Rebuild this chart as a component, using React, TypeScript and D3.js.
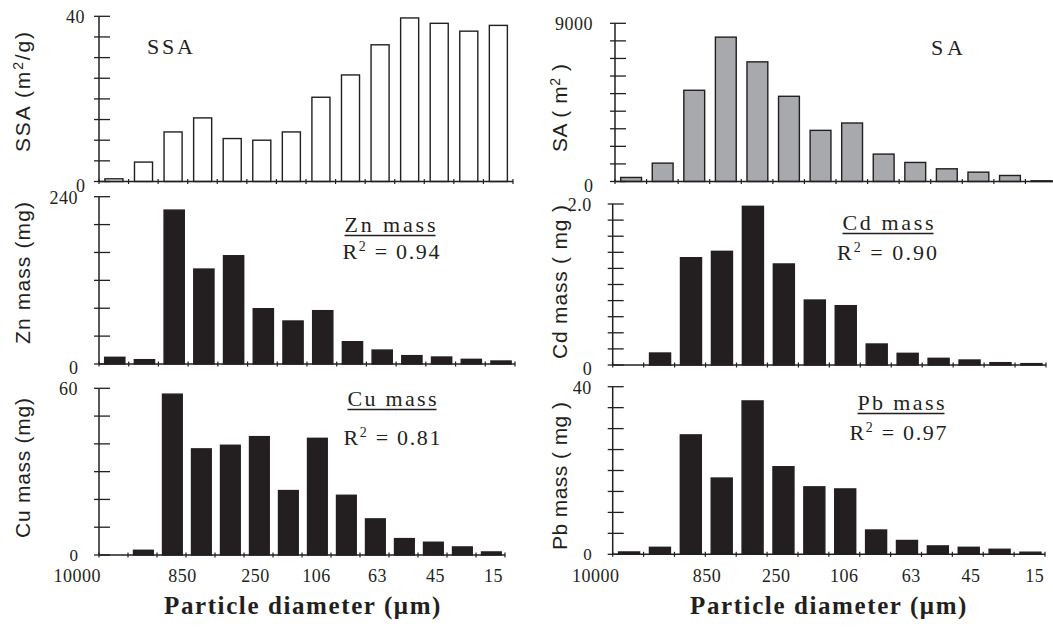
import React from "react";
import * as d3 from "d3";

// 14 particle-size fractions (coarse -> fine)
const fractions = ["f1", "f2", "f3", "f4", "f5", "f6", "f7", "f8", "f9", "f10", "f11", "f12", "f13", "f14"];
const sizeLabels = ["10000", "850", "250", "106", "63", "45", "15"];

const ssaValues = [0.65, 4.7, 12.0, 15.4, 10.4, 10.0, 12.0, 20.4, 25.8, 33.1, 39.6, 38.3, 36.4, 37.8];
const saValues = [230, 1045, 5190, 8213, 6806, 4848, 2909, 3327, 1559, 1084, 722, 532, 342, 40];
const znValues = [9.6, 6.2, 220.8, 136.2, 155.3, 79.3, 61.7, 76.5, 32, 20, 12, 10, 6.7, 4.3];
const cdValues = [0, 0.149, 1.333, 1.412, 1.971, 1.255, 0.807, 0.737, 0.261, 0.145, 0.083, 0.062, 0.029, 0.017];
const cuValues = [0, 1.7, 57.9, 38.2, 39.5, 42.6, 23.2, 42.0, 21.5, 13.0, 5.9, 4.6, 2.9, 1.1];
const pbValues = [0.56, 1.67, 28.5, 18.2, 36.6, 20.9, 16.1, 15.6, 5.8, 3.3, 2.0, 1.67, 1.2, 0.5];

const INK = "#231f20";
const SERIF = "'Liberation Serif', 'Times New Roman', serif";
const SANS = "'Liberation Sans', Arial, sans-serif";

type PanelProps = {
  values: number[];
  max: number;
  step: number;
  topLabel: string;
  x0: number;
  x1: number;
  yTop: number;
  yBottom: number;
  fill: string;
  barOff: number;
  barFrac: number;
  yTitle: React.ReactNode;
  yTitleLen: number;
  yTitleX: number;
  yTitleY: number;
  labelGap: number;
  xLabels?: number[];
  title?: string;
  titleX?: number;
  titleY?: number;
  titleLen?: number;
  underline?: boolean;
  r2?: string;
  r2X?: number;
  r2Y?: number;
  r2Len?: number;
};

function Panel(p: PanelProps) {
  const x = d3.scaleBand<string>().domain(fractions).range([p.x0, p.x1]).padding(0);
  const y = d3.scaleLinear().domain([0, p.max]).range([p.yBottom, p.yTop]);
  const bw = x.bandwidth();
  const yTicks = d3.range(0, p.max + p.step / 2, p.step);
  const xTicks = d3.range(0, fractions.length + 1).map((i) => p.x0 + i * bw);
  const zeroDy = p.xLabels ? 6 : 10;
  return (
    <g>
      {p.values.map((v, i) =>
        v > 0 ? (
          <rect
            key={i}
            x={(x(fractions[i]) as number) + bw * p.barOff}
            y={y(v)}
            width={bw * p.barFrac}
            height={Math.max(0.6, p.yBottom - y(v))}
            fill={p.fill}
            stroke={INK}
            strokeWidth={1.4}
          />
        ) : null
      )}
      {/* y axis */}
      <line x1={p.x0} x2={p.x0} y1={p.yTop} y2={p.yBottom} stroke={INK} strokeWidth={1.5} />
      {yTicks.map((t, i) => (
        <line key={i} x1={p.x0 - 5} x2={p.x0 + 11} y1={y(t)} y2={y(t)} stroke={INK} strokeWidth={1.3} />
      ))}
      <text x={p.x0 - p.labelGap} y={y(p.max) + 7} textAnchor="end" fontFamily={SERIF} fontSize={18} fill={INK} letterSpacing={0.5}>
        {p.topLabel}
      </text>
      <text x={p.x0 - p.labelGap} y={y(0) + zeroDy} textAnchor="end" fontFamily={SERIF} fontSize={p.xLabels ? 17 : 18} fill={INK}>
        0
      </text>
      {/* x axis */}
      <line x1={p.x0} x2={p.x1} y1={p.yBottom} y2={p.yBottom} stroke={INK} strokeWidth={1.5} />
      {xTicks.map((t, i) => (
        <line key={i} x1={t} x2={t} y1={p.yBottom - 2.5} y2={p.yBottom + 2.5} stroke={INK} strokeWidth={1.2} />
      ))}
      {p.xLabels
        ? sizeLabels.map((s, i) => (
            <text key={s} x={p.x0 + p.xLabels![i] * bw} y={582} textAnchor="middle" fontFamily={SERIF} fontSize={18} fill={INK} letterSpacing={0.5}>
              {s}
            </text>
          ))
        : null}
      {/* y title */}
      <text
        transform={`translate(${p.yTitleX},${p.yTitleY}) rotate(-90)`}
        textAnchor="middle"
        fontFamily={SANS}
        fontSize={21}
        fill={INK}
        textLength={p.yTitleLen}
        lengthAdjust="spacing"
      >
        {p.yTitle}
      </text>
      {p.title ? (
        <g>
          <text x={p.titleX} y={p.titleY} textAnchor="middle" fontFamily={SERIF} fontSize={22} fill={INK} textLength={p.titleLen} lengthAdjust="spacing">
            {p.title}
          </text>
          {p.underline ? (
            <line
              x1={(p.titleX as number) - (p.titleLen as number) / 2}
              x2={(p.titleX as number) + (p.titleLen as number) / 2}
              y1={(p.titleY as number) + 3.5}
              y2={(p.titleY as number) + 3.5}
              stroke={INK}
              strokeWidth={1.5}
            />
          ) : null}
        </g>
      ) : null}
      {p.r2 ? (
        <text x={p.r2X} y={p.r2Y} textAnchor="middle" fontFamily={SERIF} fontSize={22} fill={INK} textLength={p.r2Len} lengthAdjust="spacing">
          <tspan>R</tspan>
          <tspan dy={-8} fontSize={14}>2</tspan>
          <tspan dy={8}>{" = " + p.r2}</tspan>
        </text>
      ) : null}
    </g>
  );
}

const leftLabelPos = [-0.75, 2.88, 5.4, 7.5, 9.6, 11.6, 13.6];
const rightLabelPos = [-0.55, 3.05, 5.3, 7.5, 9.67, 11.6, 13.67];

export default function App() {
  return (
    <svg width={1053} height={627} style={{ position: "absolute", left: 0, top: 0, background: "#fff" }}>
      <rect x={0} y={0} width={1053} height={627} fill="#fff" />
      {/* SSA */}
      <Panel
        values={ssaValues}
        max={40}
        step={5}
        topLabel="40"
        x0={99}
        x1={513}
        yTop={16.3}
        yBottom={181.5}
        fill="#ffffff"
        barOff={0.2}
        barFrac={0.61}
        yTitle={<>SSA (m<tspan dy={-7} fontSize={14}>2</tspan><tspan dy={7}>/g)</tspan></>}
        yTitleLen={120}
        yTitleX={30}
        yTitleY={92}
        labelGap={14}
        title="SSA"
        titleX={170}
        titleY={54}
        titleLen={46}
      />
      {/* SA */}
      <Panel
        values={saValues}
        max={9000}
        step={1000}
        topLabel="9000"
        x0={615}
        x1={1057}
        yTop={23.3}
        yBottom={181.5}
        fill="#a7a9ac"
        barOff={0.18}
        barFrac={0.66}
        yTitle={<>SA ( m<tspan dy={-7} fontSize={14}>2</tspan><tspan dy={7}> )</tspan></>}
        yTitleLen={88}
        yTitleX={567}
        yTitleY={108}
        labelGap={22}
        title="SA"
        titleX={947}
        titleY={55}
        titleLen={32}
      />
      {/* Zn */}
      <Panel
        values={znValues}
        max={240}
        step={40}
        topLabel="240"
        x0={99}
        x1={515}
        yTop={196.7}
        yBottom={364}
        fill={INK}
        barOff={0.19}
        barFrac={0.68}
        yTitle="Zn mass (mg)"
        yTitleLen={142}
        yTitleX={30}
        yTitleY={273}
        labelGap={21}
        title="Zn mass"
        titleX={390}
        titleY={232}
        titleLen={91}
        underline
        r2="0.94"
        r2X={391}
        r2Y={259}
        r2Len={97}
      />
      {/* Cd */}
      <Panel
        values={cdValues}
        max={2.0}
        step={0.2}
        topLabel="2.0"
        x0={612.7}
        x1={1046}
        yTop={204}
        yBottom={365}
        fill={INK}
        barOff={0.19}
        barFrac={0.68}
        yTitle="Cd mass ( mg )"
        yTitleLen={154}
        yTitleX={567}
        yTitleY={282}
        labelGap={21}
        title="Cd mass"
        titleX={888}
        titleY={230}
        titleLen={91}
        underline
        r2="0.90"
        r2X={887}
        r2Y={260}
        r2Len={100}
      />
      {/* Cu */}
      <Panel
        values={cuValues}
        max={60}
        step={10}
        topLabel="60"
        x0={99}
        x1={505}
        yTop={388.3}
        yBottom={555}
        fill={INK}
        barOff={0.19}
        barFrac={0.68}
        yTitle="Cu mass (mg)"
        yTitleLen={140}
        yTitleX={30}
        yTitleY={468}
        labelGap={21}
        xLabels={leftLabelPos}
        title="Cu mass"
        titleX={392}
        titleY={406}
        titleLen={89}
        underline
        r2="0.81"
        r2X={392}
        r2Y={445}
        r2Len={97}
      />
      {/* Pb */}
      <Panel
        values={pbValues}
        max={40}
        step={5}
        topLabel="40"
        x0={612.7}
        x1={1045}
        yTop={386.7}
        yBottom={554.3}
        fill={INK}
        barOff={0.19}
        barFrac={0.68}
        yTitle="Pb mass ( mg )"
        yTitleLen={148}
        yTitleX={567}
        yTitleY={476}
        labelGap={21}
        xLabels={rightLabelPos}
        title="Pb mass"
        titleX={901}
        titleY={410}
        titleLen={87}
        underline
        r2="0.97"
        r2X={898}
        r2Y={440}
        r2Len={97}
      />
      <text x={303} y={614} textAnchor="middle" fontFamily={SERIF} fontWeight="bold" fontSize={25} fill={INK} letterSpacing={1.6}>
        Particle diameter (μm)
      </text>
      <text x={829} y={614} textAnchor="middle" fontFamily={SERIF} fontWeight="bold" fontSize={25} fill={INK} letterSpacing={1.6}>
        Particle diameter (μm)
      </text>
    </svg>
  );
}
